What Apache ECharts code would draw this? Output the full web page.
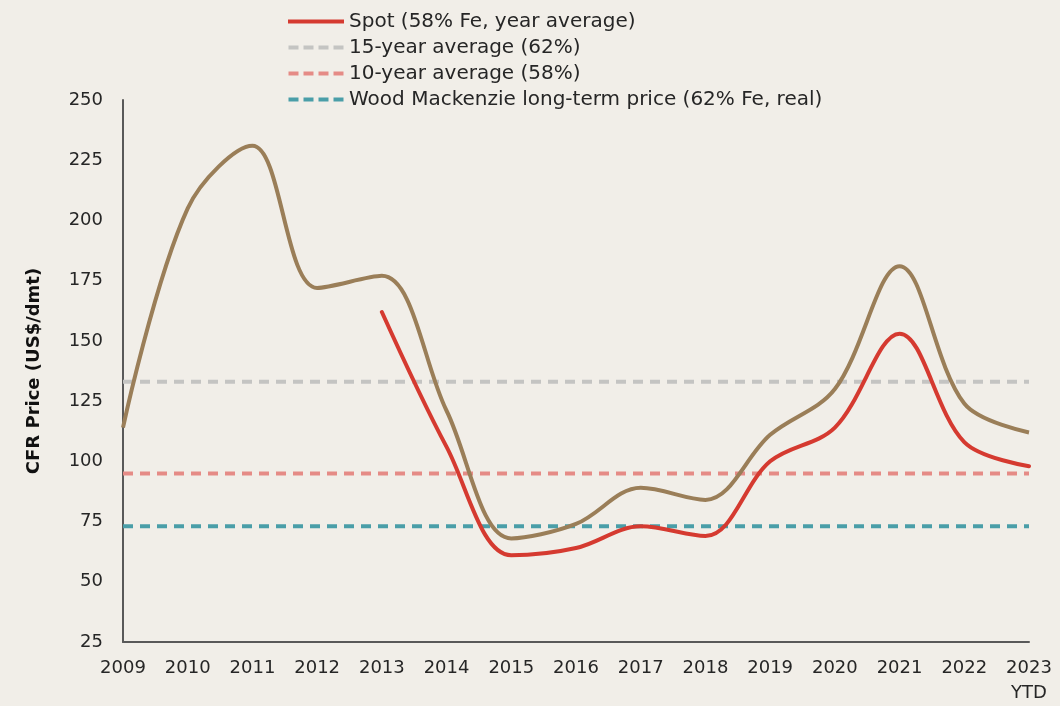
<!DOCTYPE html>
<html>
<head>
<meta charset="utf-8">
<script src="https://cdn.jsdelivr.net/npm/echarts@6/dist/echarts.min.js"></script>
<style>
  html, body { margin: 0; padding: 0; background: #f1eee8; }
  #chart { width: 1060px; height: 706px; }
</style>
</head>
<body>
<div id="chart"></div>
<script>
  const YEARS = ['2009', '2010', '2011', '2012', '2013', '2014', '2015', '2016', '2017', '2018', '2019', '2020', '2021', '2022', '2023\nYTD'];
  // 62% Fe spot (no legend entry)
  const SPOT62 = [114, 205, 231, 172, 177, 121, 68, 74, 89, 84, 111, 130, 181, 124, 112];
  // 58% Fe spot, starts 2013
  const SPOT58 = [null, null, null, null, 162, 106, 61, 64, 73, 69, 100, 114, 153, 108, 98];
  const AVG15 = 133;
  const AVG10 = 95;
  const WOODMAC_LT = 73;

  const TXT = '#262626';
  const AXIS = '#595959';
  const FONT = '"DejaVu Sans", sans-serif';

  // legend swatches: solid bar / four dashes
  const ICON_SOLID = 'path://M0,0h56v4h-56z';
  const ICON_DASH = 'path://M0,0h10v4h-10z M15,0h10v4h-10z M30,0h10v4h-10z M45,0h10v4h-10z';

  const chart = echarts.init(document.getElementById('chart'));

  function flat(v) {
    return YEARS.map(function () { return v; });
  }

  function dashed(name, color, v) {
    return {
      name: name,
      type: 'line',
      symbol: 'none',
      data: flat(v),
      lineStyle: { color: color, width: 4, type: [10, 7] },
      itemStyle: { color: color },
      z: 1,
      silent: true
    };
  }

  chart.setOption({
    backgroundColor: '#f1eee8',
    animation: false,
    textStyle: { fontFamily: FONT, color: TXT },
    legend: {
      orient: 'vertical',
      left: 283,
      top: 6,
      itemWidth: 56,
      itemHeight: 4,
      itemGap: 5,
      selectedMode: false,
      textStyle: { fontFamily: FONT, fontSize: 20, lineHeight: 21, color: TXT },
      data: [
        { name: 'Spot (58% Fe, year average)', icon: ICON_SOLID },
        { name: '15-year average (62%)', icon: ICON_DASH },
        { name: '10-year average (58%)', icon: ICON_DASH },
        { name: 'Wood Mackenzie long-term price (62% Fe, real)', icon: ICON_DASH }
      ]
    },
    grid: { left: 123, right: 31, top: 100, bottom: 64 },
    xAxis: {
      type: 'category',
      boundaryGap: false,
      data: YEARS,
      axisLine: { lineStyle: { color: AXIS, width: 2 } },
      axisTick: { show: false },
      axisLabel: { color: TXT, fontSize: 18, margin: 14, fontFamily: FONT, interval: 0, lineHeight: 25 }
    },
    yAxis: {
      type: 'value',
      min: 25,
      max: 250,
      interval: 25,
      name: 'CFR Price (US$/dmt)',
      nameLocation: 'middle',
      nameGap: 80,
      nameTextStyle: { fontSize: 18, fontWeight: 'bold', color: '#111', fontFamily: FONT },
      axisLine: { show: true, lineStyle: { color: AXIS, width: 2 } },
      axisTick: { show: false },
      splitLine: { show: false },
      axisLabel: { color: TXT, fontSize: 18, margin: 20, fontFamily: FONT }
    },
    series: [
      dashed('15-year average (62%)', '#c4c4c2', AVG15),
      dashed('10-year average (58%)', '#e58b86', AVG10),
      dashed('Wood Mackenzie long-term price (62% Fe, real)', '#4a9ea8', WOODMAC_LT),
      {
        name: 'Spot (62% Fe)',
        type: 'line',
        smooth: 0.35,
        symbol: 'none',
        data: SPOT62,
        lineStyle: { color: '#9a7e58', width: 4 },
        itemStyle: { color: '#9a7e58' },
        z: 3
      },
      {
        name: 'Spot (58% Fe, year average)',
        type: 'line',
        smooth: 0.35,
        symbol: 'none',
        data: SPOT58,
        lineStyle: { color: '#d53a30', width: 4, cap: 'round' },
        itemStyle: { color: '#d53a30' },
        z: 4
      }
    ]
  });
</script>
</body>
</html>
